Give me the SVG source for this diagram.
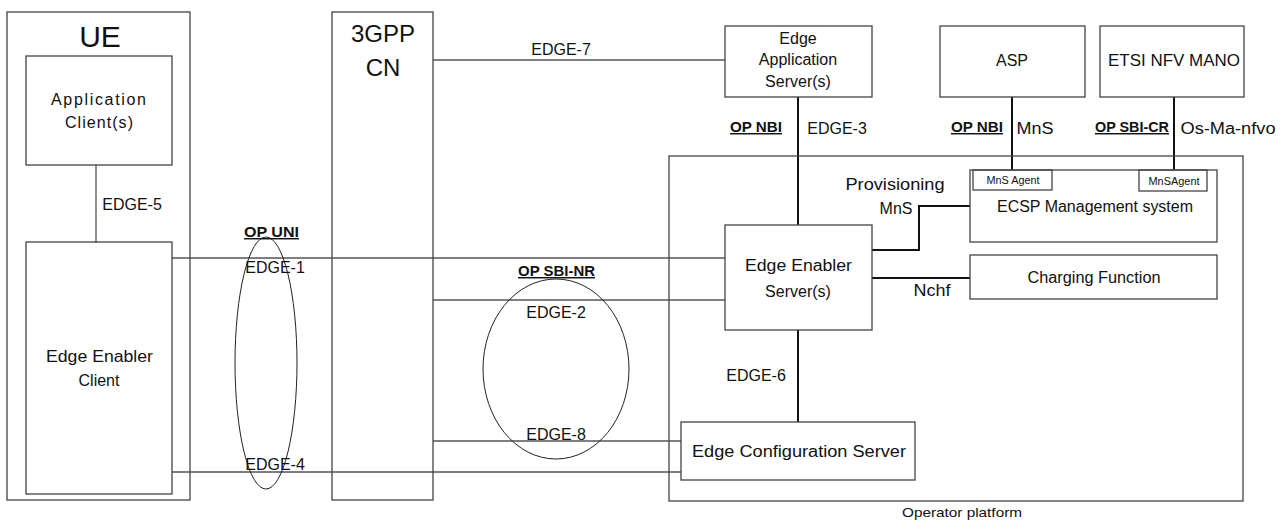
<svg xmlns="http://www.w3.org/2000/svg" width="1285" height="523" viewBox="0 0 1285 523">
<style>
text{font-family:"Liberation Sans",Arial,sans-serif;font-size:16px;fill:#111;text-anchor:middle}
.b{fill:none;stroke:#444;stroke-width:1.3}
.l{fill:none;stroke:#555;stroke-width:1.3}
.k{fill:none;stroke:#111;stroke-width:2}
.e{fill:none;stroke:#222;stroke-width:1}
.big{font-size:30px}
.mid{font-size:24px}
.u{font-weight:bold;font-size:14.5px;text-decoration:underline}
.s{font-size:10px}
</style>
<rect width="1285" height="523" fill="#fff"/>
<g id="connectors">
<path class="l" d="M96 165V243"/>
<path class="l" d="M172 258H725"/>
<path class="l" d="M433 300H725"/>
<path class="l" d="M433 441H681"/>
<path class="l" d="M172 472H681"/>
<path class="l" d="M433 60H725"/>
<path class="k" d="M798 97V225"/>
<path class="k" d="M1012 97V170"/>
<path class="k" d="M1174 97V170"/>
<path class="k" d="M798 330V422"/>
<path class="k" d="M872 250H919V206H970"/>
<path class="k" d="M872 278H970"/>
</g>
<g id="ue"><rect class="b" x="7" y="12" width="183" height="488"/><text class="big" x="100" y="47">UE</text></g>
<g id="application-client"><rect class="b" x="26" y="56" width="146" height="109"/><text x="98.500" y="105" textLength="95">Application</text><text x="99" y="128" textLength="68">Client(s)</text></g>
<g id="edge-enabler-client"><rect class="b" x="26" y="242" width="146" height="252"/><text x="99.500" y="362" textLength="107" lengthAdjust="spacingAndGlyphs">Edge Enabler</text><text x="99" y="386">Client</text></g>
<g id="cn"><rect class="b" x="332" y="12" width="101" height="488"/><text class="mid" x="383" y="42">3GPP</text><text class="mid" x="383" y="76">CN</text></g>
<g id="edge-application-server"><rect class="b" x="725" y="26" width="147" height="71"/><text x="798" y="44">Edge</text><text x="798" y="65">Application</text><text x="798" y="87">Server(s)</text></g>
<g id="asp"><rect class="b" x="940" y="26" width="145" height="71"/><text x="1012" y="66">ASP</text></g>
<g id="etsi-nfv-mano"><rect class="b" x="1100" y="26" width="144" height="71"/><text x="1174" y="66" textLength="132" lengthAdjust="spacingAndGlyphs">ETSI NFV MANO</text></g>
<g id="operator-platform"><rect class="b" x="669" y="156" width="574" height="345"/><text style="font-size:13px" x="962" y="517" textLength="120" lengthAdjust="spacingAndGlyphs">Operator platform</text></g>
<g id="ecsp-management"><rect class="b" x="970" y="170" width="247" height="72"/><text x="1095" y="212" textLength="196" lengthAdjust="spacingAndGlyphs">ECSP Management system</text></g>
<g id="mns-agent-1"><rect class="b" x="973" y="170" width="79" height="20"/><text class="s" x="1013" y="184" textLength="53" lengthAdjust="spacingAndGlyphs">MnS Agent</text></g>
<g id="mns-agent-2"><rect class="b" x="1139" y="170" width="68" height="21"/><text class="s" x="1174" y="185" textLength="51" lengthAdjust="spacingAndGlyphs">MnSAgent</text></g>
<g id="charging-function"><rect class="b" x="970" y="255" width="247" height="44"/><text x="1094" y="283" textLength="133" lengthAdjust="spacingAndGlyphs">Charging Function</text></g>
<g id="edge-enabler-server"><rect class="b" x="725" y="225" width="147" height="105"/><text x="798.500" y="271" textLength="107" lengthAdjust="spacingAndGlyphs">Edge Enabler</text><text x="798" y="297">Server(s)</text></g>
<g id="edge-configuration-server"><rect class="b" x="681" y="422" width="234" height="58"/><text x="799" y="457" textLength="214" lengthAdjust="spacingAndGlyphs">Edge Configuration Server</text></g>
<g id="op-uni"><ellipse class="e" cx="266" cy="363" rx="31" ry="126"/></g>
<g id="op-sbi-nr"><ellipse class="e" cx="556" cy="369" rx="73" ry="90"/></g>
<g id="labels">
<text x="132" y="210">EDGE-5</text>
<text x="561" y="55">EDGE-7</text>
<text class="u" x="271.500" y="237" textLength="55" lengthAdjust="spacingAndGlyphs">OP UNI</text>
<text x="275" y="273">EDGE-1</text>
<text class="u" x="556.500" y="276" textLength="77" lengthAdjust="spacingAndGlyphs">OP SBI-NR</text>
<text x="556" y="318">EDGE-2</text>
<text x="556" y="440">EDGE-8</text>
<text x="275" y="470">EDGE-4</text>
<text x="756" y="381">EDGE-6</text>
<text class="u" x="756" y="132" textLength="52" lengthAdjust="spacingAndGlyphs">OP NBI</text>
<text x="837" y="134">EDGE-3</text>
<text class="u" x="977" y="132" textLength="52" lengthAdjust="spacingAndGlyphs">OP NBI</text>
<text x="1035" y="134" textLength="37" lengthAdjust="spacingAndGlyphs">MnS</text>
<text class="u" x="1132" y="132" textLength="74" lengthAdjust="spacingAndGlyphs">OP SBI-CR</text>
<text x="1228" y="134" textLength="95" lengthAdjust="spacingAndGlyphs">Os-Ma-nfvo</text>
<text x="895" y="190" textLength="99" lengthAdjust="spacingAndGlyphs">Provisioning</text>
<text x="896" y="214">MnS</text>
<text x="932" y="296" textLength="37" lengthAdjust="spacingAndGlyphs">Nchf</text>
</g>
</svg>
